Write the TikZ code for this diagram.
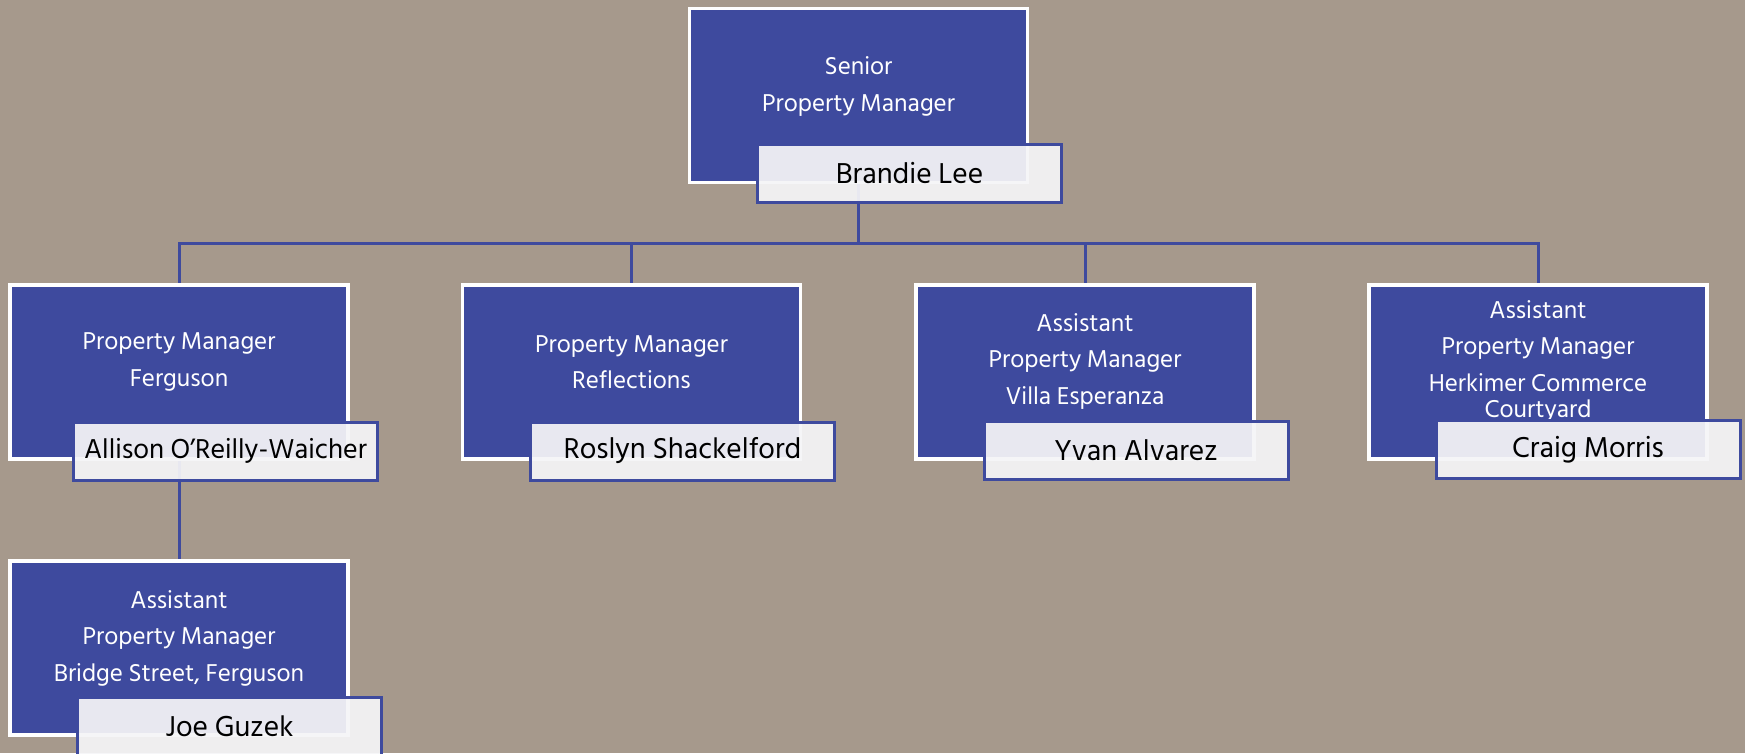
\documentclass[tikz,border=0pt]{standalone}
\usepackage{fontspec}
\setmainfont{Hind Siliguri}
\definecolor{bgtaupe}{RGB}{166,153,140}
\definecolor{roleblue}{RGB}{62,74,158}
\definecolor{namefill}{RGB}{245,245,247}
\begin{document}
\begin{tikzpicture}[x=1pt,y=-1pt]
        \tikzstyle{rolebox}=[rectangle,draw=white,line width=3.5pt,fill=roleblue,minimum width=338pt,minimum height=174pt]
        \tikzstyle{roletitle}=[text=white,align=center,font=\fontsize{25}{36.5}\selectfont]
        \tikzstyle{namebox}=[rectangle,draw=roleblue,line width=3pt,fill=namefill,fill opacity=0.93,text opacity=1,minimum width=304pt,minimum height=58pt,inner xsep=2pt,font=\fontsize{29.5}{32}\selectfont]
        \tikzstyle{link}=[draw=roleblue,line width=3pt]
        \fill[bgtaupe] (0,0) rectangle (1745,753);
        \useasboundingbox (0,0) rectangle (1745,753);
        % role boxes
        \node [rolebox] (sen) at (858.5,95.5) {};
        \node [rolebox] (pm1) at (179,372) {};
        \node [rolebox] (pm2) at (631.5,372) {};
        \node [rolebox] (apm2) at (1085,372) {};
        \node [rolebox] (apm3) at (1538,372) {};
        \node [rolebox] (apm1) at (179,648) {};
        % titles
        \node [roletitle] (sent) at (858.5,86.5) {Senior\\Property Manager};
        \node [roletitle] (pm1t) at (179,362) {Property Manager\\Ferguson};
        \node [roletitle] (pm2t) at (631.5,362) {Property Manager\\Reflections};
        \node [roletitle] (apm2t) at (1085,361) {Assistant\\Property Manager\\Villa Esperanza};
        \node [roletitle] (apm3t) at (1538,361) {Assistant\\Property Manager\\Herkimer Commerce\\[-10pt]Courtyard};
        \node [roletitle] (apm1t) at (179,638) {Assistant\\Property Manager\\Bridge Street, Ferguson};
        % connectors
        \coordinate (bus) at (858.5,243);
        \path[link] (sen.south) -- (bus);
        \path[link] (bus) -| (pm1.north);
        \path[link] (bus) -| (pm2.north);
        \path[link] (bus) -| (apm2.north);
        \path[link] (bus) -| (apm3.north);
        \path[link] (pm1.south) -- (apm1.north);
        % names
        \node [namebox] (senn) at (909.5,173.5) {Brandie Lee};
        \node [namebox] (pm1n) at (225.5,451) {\fontsize{28}{30}\selectfont Allison O’Reilly-Waicher};
        \node [namebox] (pm2n) at (682.5,451) {Roslyn Shackelford};
        \node [namebox] (apm2n) at (1136,450) {Yvan Alvarez};
        \node [namebox] (apm3n) at (1588,449.5) {Craig Morris};
        \node [namebox] (apm1n) at (229.5,726) {Joe Guzek};
\end{tikzpicture}
\end{document}
